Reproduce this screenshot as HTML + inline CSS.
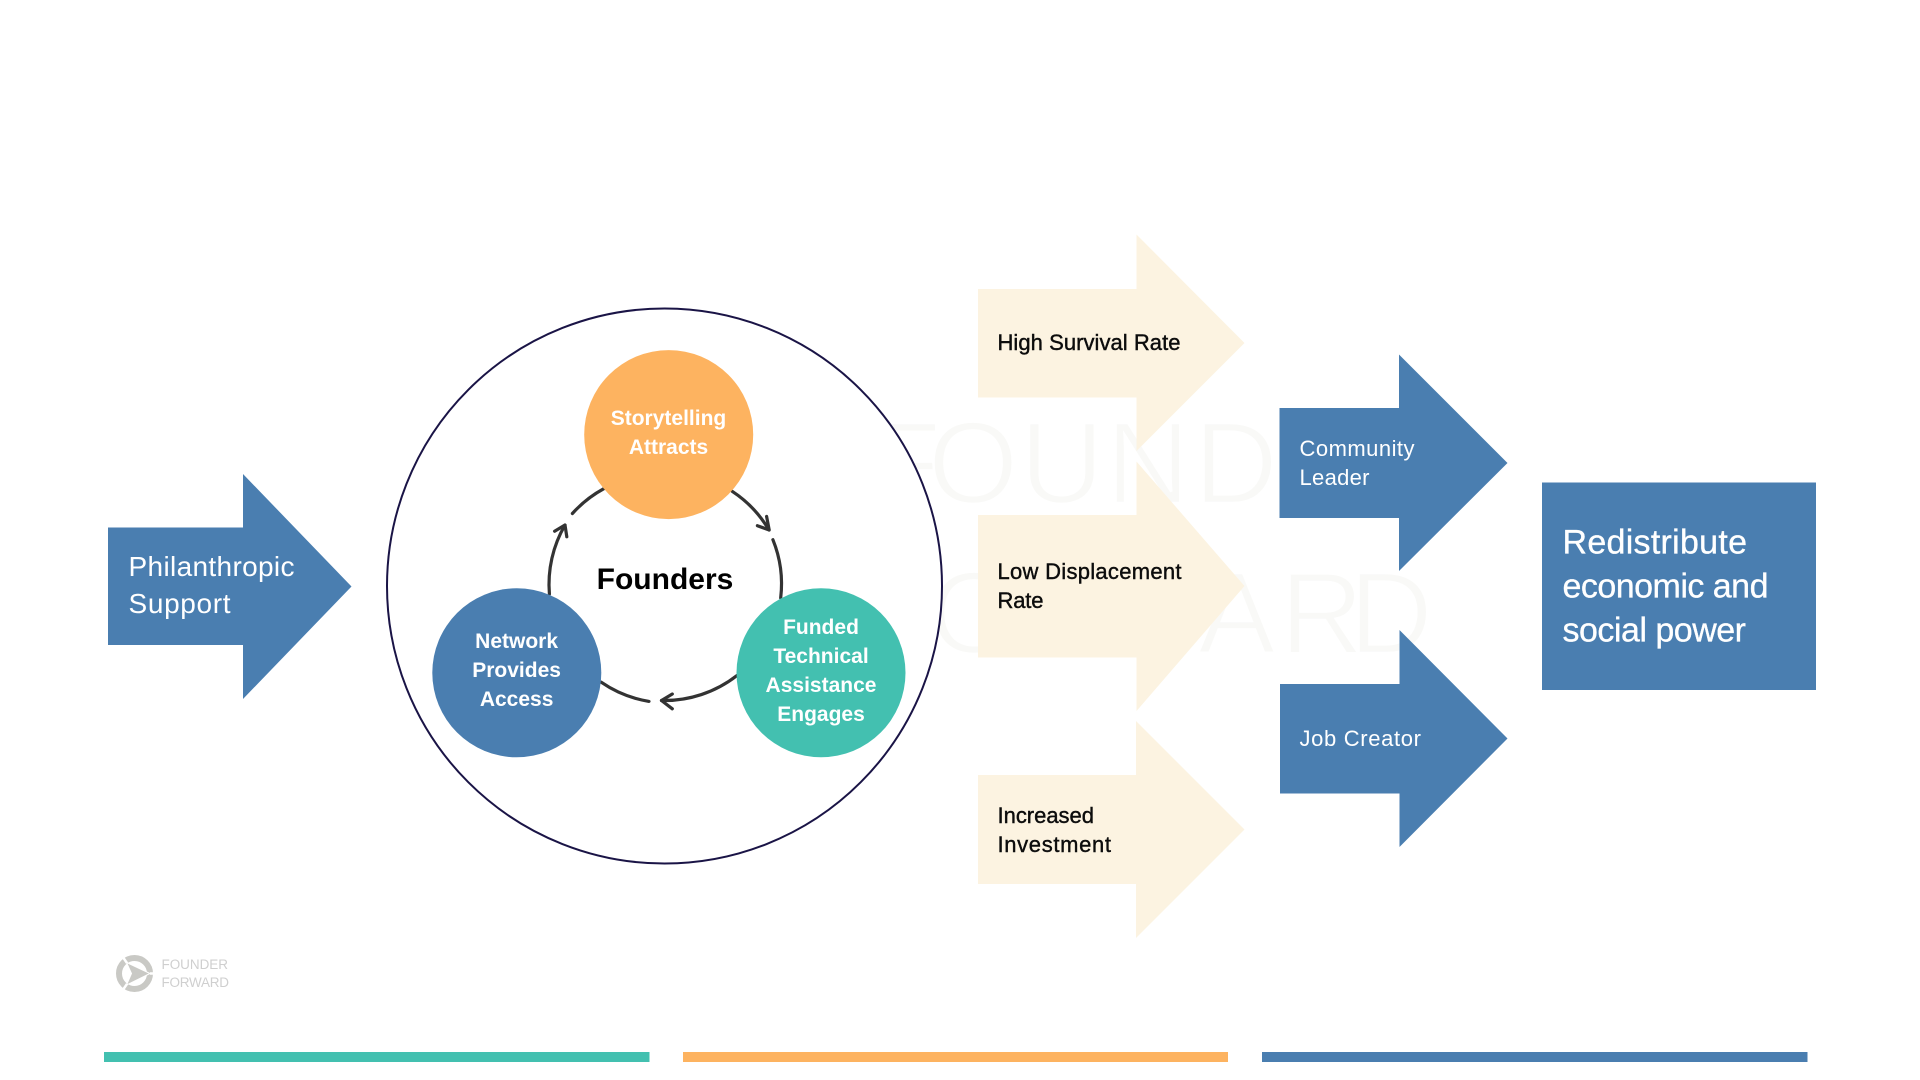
<!DOCTYPE html>
<html lang="en">
<head>
<meta charset="utf-8">
<title>Founder Forward diagram</title>
<style>
html,body{margin:0;padding:0;background:#fff;width:1920px;height:1080px;overflow:hidden}
svg{display:block}
text{font-family:"Liberation Sans",sans-serif}
.c{font-weight:700;font-size:21px;fill:#fff;text-anchor:middle}
.k{font-size:22px;fill:#0c0c0c;stroke:#0c0c0c;stroke-width:.4px}
.w{font-size:22px;fill:#fff}
.a{fill:none;stroke:#333;stroke-width:3.2;stroke-linecap:round;stroke-linejoin:round}
</style>
</head>
<body>
<svg width="1920" height="1080" viewBox="0 0 1920 1080" xmlns="http://www.w3.org/2000/svg">
<rect width="1920" height="1080" fill="#fff"/>

<!-- watermark -->
<g fill="#f9f9f7" font-size="116" stroke="#fff" stroke-width="2.5" paint-order="fill stroke">
<text x="870 928 1020 1106 1194 1288 1368" y="503">FOUNDER</text>
<text x="870 929 1020 1100 1198 1280 1349" y="653">FORWARD</text>
</g>

<!-- yellow arrows -->
<g fill="#fcf3e1">
<polygon points="978,289 1136.5,289 1136.5,234.5 1244.5,343 1136.5,451 1136.5,397.5 978,397.5"/>
<polygon points="978,515 1136.5,515 1136.5,461.5 1244.5,586 1136.5,711 1136.5,657.5 978,657.5"/>
<polygon points="978,775 1136,775 1136,721 1244.5,829.5 1136,938 1136,884 978,884"/>
</g>

<!-- blue arrows -->
<g fill="#4a7eb0">
<polygon points="108,527.5 243,527.5 243,474 351.5,586.5 243,699 243,645 108,645"/>
<polygon points="1279.5,408 1399,408 1399,354.5 1507.5,463 1399,571 1399,518 1279.5,518"/>
<polygon points="1280,684 1399.5,684 1399.5,630 1507.5,738.5 1399.5,847 1399.5,793.5 1280,793.5"/>
<rect x="1542" y="482.5" width="274" height="207.5"/>
</g>

<!-- big circle -->
<circle cx="664.5" cy="586" r="277.5" fill="#fff" stroke="#1a1446" stroke-width="2"/>

<!-- cycle arrows -->
<path class="a" d="M732.2,491.3 A118,118 0 0 1 769,530"/>
<path class="a" d="M757.4,525.7 L769.2,530 L766.6,516.4"/>
<path class="a" d="M772.9,539.7 A118,118 0 0 1 780.7,597.8"/>
<path class="a" d="M737,675.5 A118,118 0 0 1 661.5,700.5"/>
<path class="a" d="M672.3,694 L661.5,700.5 L672.3,708.8"/>
<path class="a" d="M649,701.4 A118,118 0 0 1 601.2,682.2"/>
<path class="a" d="M549.4,594 A118,118 0 0 1 565,525"/>
<path class="a" d="M554.6,531.2 L565,525 L566.8,536.8"/>
<path class="a" d="M572.4,513.5 A118,118 0 0 1 603.8,488.7"/>

<!-- circles -->
<circle cx="668.7" cy="434.6" r="84.5" fill="#fdb360"/>
<circle cx="516.8" cy="672.8" r="84.5" fill="#4a7eb0"/>
<circle cx="821" cy="672.8" r="84.5" fill="#43c0b0"/>

<text x="665" y="589" font-size="30" font-weight="700" fill="#000" text-anchor="middle">Founders</text>

<text class="c" x="668.5" y="425">Storytelling</text>
<text class="c" x="668.5" y="454">Attracts</text>
<text class="c" x="516.6" y="648">Network</text>
<text class="c" x="516.6" y="677">Provides</text>
<text class="c" x="516.6" y="706">Access</text>
<text class="c" x="821" y="634">Funded</text>
<text class="c" x="821" y="663">Technical</text>
<text class="c" x="821" y="692">Assistance</text>
<text class="c" x="821" y="721">Engages</text>

<!-- arrow labels -->
<text x="128.5" y="576" font-size="28" fill="#fff" textLength="166" lengthAdjust="spacing">Philanthropic</text>
<text x="128.5" y="613" font-size="28" fill="#fff" textLength="102" lengthAdjust="spacing">Support</text>

<text class="k" x="997.5" y="350" textLength="183" lengthAdjust="spacing">High Survival Rate</text>
<text class="k" x="997.5" y="579" textLength="184" lengthAdjust="spacing">Low Displacement</text>
<text class="k" x="997.5" y="608" textLength="46" lengthAdjust="spacing">Rate</text>
<text class="k" x="997.5" y="823" textLength="96.5" lengthAdjust="spacing">Increased</text>
<text class="k" x="997.5" y="852" textLength="113.5" lengthAdjust="spacing">Investment</text>

<text class="w" x="1299.5" y="456" textLength="115" lengthAdjust="spacing">Community</text>
<text class="w" x="1299.5" y="485" textLength="70" lengthAdjust="spacing">Leader</text>
<text class="w" x="1299.5" y="746" textLength="121.5" lengthAdjust="spacing">Job Creator</text>

<g font-size="34" fill="#fff" stroke="#fff" stroke-width=".3">
<text x="1562.5" y="553.5" textLength="184.5" lengthAdjust="spacing">Redistribute</text>
<text x="1562.5" y="597.5" textLength="206" lengthAdjust="spacing">economic and</text>
<text x="1562.5" y="641.5" textLength="183.5" lengthAdjust="spacing">social power</text>
</g>

<!-- logo -->
<circle cx="134.5" cy="973.5" r="15.5" fill="none" stroke="#c9c9c5" stroke-width="6"/>
<path d="M127,963 L120,953 M127,984 L120,994 M150,973.5 L156,973.5" stroke="#fff" stroke-width="2.5" fill="none"/>
<polygon points="126.5,962.5 150,973.5 126.5,985 131.5,973.5" fill="#c9c9c5" stroke="#fff" stroke-width="1"/>
<text x="161.5" y="969" font-size="13.5" fill="#cfcfcf" textLength="66.5" lengthAdjust="spacing">FOUNDER</text>
<text x="161.5" y="987" font-size="13.5" fill="#cfcfcf" textLength="67.5" lengthAdjust="spacing">FORWARD</text>

<!-- bottom bars -->
<rect x="104" y="1052" width="545.5" height="10" fill="#43c0b0"/>
<rect x="683" y="1052" width="545" height="10" fill="#fdb360"/>
<rect x="1262" y="1052" width="545.5" height="10" fill="#4a7eb0"/>
</svg>
</body>
</html>
